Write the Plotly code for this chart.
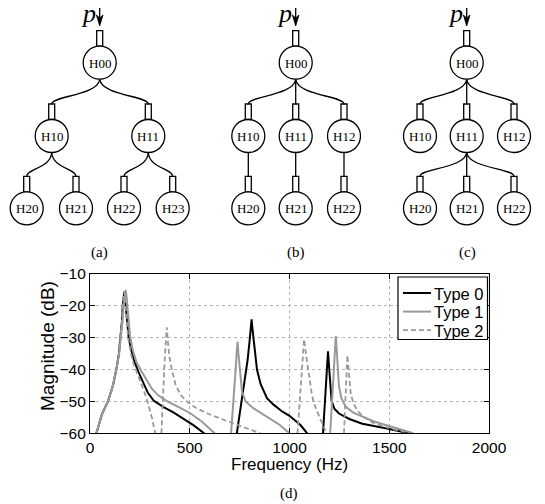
import plotly.graph_objects as go

# ---------------- data ----------------
type0_f = [32, 60, 90, 115, 132, 145, 152, 160, 164, 168, 172, 176, 181, 187, 194, 205, 220, 241, 265, 290, 320, 369, 420, 469, 520, 572,
           None,
           736, 750, 765, 777, 790, 800, 806, 810, 814, 820, 828, 837, 855, 887, 920, 960, 1000, 1030, 1055, 1089,
           None,
           1168, 1175, 1182, 1188, 1193, 1197, 1203, 1211, 1225, 1248, 1300, 1365, 1482, 1550, 1600]
type0_db = [-60, -54, -50, -45, -40, -35, -30, -25, -20, -17, -15.5, -18, -22, -26.5, -30, -33.5, -37, -40.5, -44, -47.3, -49.8, -51.8, -53.5, -55.4, -57.5, -60,
            None,
            -60, -54, -48, -43, -37, -31, -27, -24.2, -27, -31, -36, -40, -44.5, -49, -51, -53, -54.5, -56, -57.4, -60,
            None,
            -60, -52, -44, -37, -34.3, -38, -44, -49.7, -52.3, -53.8, -55.5, -57, -58.4, -59.2, -60]

type1_f = [32, 60, 90, 115, 132, 146, 154, 163, 168, 174, 179, 183, 188, 195, 201, 215, 232, 258, 285, 310, 340, 385, 440, 503, 560, 625,
           None,
           707, 715, 722, 730, 736, 740, 744, 750, 762, 780, 820, 854, 900, 950, 1000,
           None,
           1204, 1212, 1220, 1227, 1232, 1236, 1241, 1248, 1260, 1281, 1320, 1365, 1420, 1482, 1550, 1620]
type1_db = [-60, -54, -50, -45, -40, -35, -30, -25, -20, -16.5, -15, -17, -21, -26, -29.5, -34, -37.5, -40.5, -43.5, -46, -48, -49.9, -51.6, -53.7, -56.3, -60,
            None,
            -60, -54, -48, -40, -34, -31.3, -35, -40, -47, -50, -52.2, -53.5, -55.3, -57.3, -60,
            None,
            -60, -52, -43, -35, -29.5, -33, -40, -45.3, -49, -51.6, -53.5, -54.8, -56.2, -57.4, -58.7, -60]

type2_f = [32, 60, 90, 115, 132, 145, 152, 160, 164, 168, 172, 176, 181, 191, 205, 220, 233, 255, 275, 288, 300, 310, 318, 327,
           None,
           358, 365, 372, 378, 385, 390, 398, 410, 430, 455, 486, 530, 586, 650, 720, 790, 854,
           None,
           1040, 1050, 1060, 1068, 1073, 1080, 1090, 1097, 1110, 1122, 1140, 1156, 1170, 1183,
           None,
           1273, 1280, 1286, 1290, 1295, 1300, 1307, 1320, 1340, 1375, 1415, 1480, 1550, 1620]
type2_db = [-60, -54, -50, -45, -40, -35, -30, -25, -20, -17, -15.5, -18, -23, -30, -35, -38.5, -40.5, -44, -47.5, -50, -52.5, -55, -57.3, -60,
            None,
            -60, -48, -40, -33, -26.7, -31, -36, -40, -45, -48, -50, -52, -53.7, -55.3, -56.9, -58.5, -60,
            None,
            -60, -50, -40, -33, -30.5, -34, -38.5, -41, -47, -50.5, -53.5, -55.8, -57.5, -60,
            None,
            -60, -50, -41, -35.5, -39, -43.5, -47.6, -50.5, -52.9, -55, -56.6, -58, -59.2, -60]

series_names = ["Type 0", "Type 1", "Type 2"]
x_ticks = [0, 500, 1000, 1500, 2000]
y_ticks = [-60, -50, -40, -30, -20, -10]

# tree diagrams: (root label, level-1 labels, children labels per level-1 node)
tree_a = ("H00", ["H10", "H11"], [["H20", "H21"], ["H22", "H23"]])
tree_b = ("H00", ["H10", "H11", "H12"], [["H20"], ["H21"], ["H22"]])
tree_c = ("H00", ["H10", "H11", "H12"], [[], ["H20", "H21", "H22"], []])
panel_labels = ["(a)", "(b)", "(c)", "(d)"]

# ---------------- figure ----------------
# the page body has an 8px margin, so the figure starts at (8, 8) of the window
OFF = 8
WIN_W, WIN_H = 545, 504
W, H = WIN_W - OFF, WIN_H - OFF


def dom_x(a, b):
    return [(a - OFF) / W, (b - OFF) / W]


def dom_y(top, bottom):
    return [(WIN_H - bottom) / H, (WIN_H - top) / H]


fig = go.Figure()

GRAY = "#999999"
styles = [dict(color="black", width=2),
          dict(color=GRAY, width=2),
          dict(color=GRAY, width=1.8, dash="5px,3px")]
for name, fx, fy, st in zip(series_names, [type0_f, type1_f, type2_f], [type0_db, type1_db, type2_db], styles):
    fig.add_trace(go.Scatter(x=fx, y=fy, mode="lines", name=name, line=st, connectgaps=False,
                             showlegend=False))

# window-pixel overlay for the diagrams and legend
fig.add_trace(go.Scatter(x=[None], y=[None], xaxis="x2", yaxis="y2", showlegend=False, hoverinfo="skip"))

shapes = []
annots = []
LW = 1.3
R = 16.5
RECT_W, RECT_H = 6, 15.5
Y_LEVELS = [62.7, 136, 208.3]


def add_node(cx, cy, label):
    rt = cy - R - RECT_H
    shapes.append(dict(type="rect", xref="x2", yref="y2", x0=cx - RECT_W / 2, x1=cx + RECT_W / 2,
                       y0=rt, y1=cy - R, line=dict(color="black", width=LW), fillcolor="white"))
    shapes.append(dict(type="circle", xref="x2", yref="y2", x0=cx - R, x1=cx + R, y0=cy - R, y1=cy + R,
                       line=dict(color="black", width=LW), fillcolor="white"))
    annots.append(dict(xref="x2", yref="y2", x=cx, y=cy + 0.5, text=label, showarrow=False,
                       font=dict(family="Liberation Serif", size=13, color="black"),
                       xanchor="center", yanchor="middle"))
    return rt


def connect(px, py, cx, cy):
    if abs(px - cx) < 0.5:
        path = f"M {px},{py} L {cx},{cy}"
    else:
        dy = cy - py
        c1x = px + 0.04 * (cx - px)
        c1y = py + 0.67 * dy
        path = f"M {px},{py} C {c1x},{c1y} {cx},{c1y} {cx},{cy}"
    shapes.append(dict(type="path", xref="x2", yref="y2", path=path, line=dict(color="black", width=LW),
                       layer="below"))


def draw_tree(tree, root_x, l1_x, l2_x):
    root, l1, l2 = tree
    add_node(root_x, Y_LEVELS[0], root)
    for i, lab in enumerate(l1):
        rt = Y_LEVELS[1] - R - RECT_H
        connect(root_x, Y_LEVELS[0] + R, l1_x[i], rt)
        add_node(l1_x[i], Y_LEVELS[1], lab)
        for j, clab in enumerate(l2[i]):
            cx = l2_x[i][j]
            rt2 = Y_LEVELS[2] - R - RECT_H
            connect(l1_x[i], Y_LEVELS[1] + R, cx, rt2)
            add_node(cx, Y_LEVELS[2], clab)
    # input arrow and p
    shapes.append(dict(type="line", xref="x2", yref="y2", x0=root_x, x1=root_x, y0=3.3, y1=19,
                       line=dict(color="black", width=LW)))
    shapes.append(dict(type="path", xref="x2", yref="y2",
                       path=f"M {root_x-3.3},15 L {root_x},26 L {root_x+3.3},15 L {root_x},18 Z",
                       fillcolor="black", line=dict(color="black", width=0.8)))
    annots.append(dict(xref="x2", yref="y2", x=root_x - 11, y=13, text="<i>p</i>", showarrow=False,
                       font=dict(family="Liberation Serif", size=26, color="black"),
                       xanchor="center", yanchor="middle"))


draw_tree(tree_a, 99.7, [51.7, 148.3], [[26.7, 76], [124, 172.7]])
draw_tree(tree_b, 295.7, [248.3, 295.7, 344], [[248.3], [295.7], [344]])
draw_tree(tree_c, 466.7, [420, 466.7, 514], [[], [420, 466.7, 514], []])

for lab, (x, y) in zip(panel_labels, [(99.5, 252), (296, 252), (467.5, 252), (289, 493)]):
    annots.append(dict(xref="x2", yref="y2", x=x, y=y, text=lab, showarrow=False,
                       font=dict(family="Liberation Serif", size=15, color="black"),
                       xanchor="center", yanchor="middle"))

annots.append(dict(xref="x2", yref="y2", x=289.5, y=464.5, text="Frequency (Hz)", showarrow=False,
                   font=dict(family="Liberation Sans", size=17, color="black"),
                   xanchor="center", yanchor="middle"))
annots.append(dict(xref="x2", yref="y2", x=47, y=346, text="Magnitude (dB)", showarrow=False, textangle=-90,
                   font=dict(family="Liberation Sans", size=19, color="black"),
                   xanchor="center", yanchor="middle"))

# legend box (MATLAB style)
shapes.append(dict(type="rect", xref="x2", yref="y2", x0=398, x1=487.5, y0=277, y1=339.5,
                   line=dict(color="black", width=1.2), fillcolor="white", layer="above"))
for k, (name, st) in enumerate(zip(series_names, styles)):
    yy = 293 + k * 18.6
    ln = dict(color=st["color"], width=st["width"])
    if "dash" in st:
        ln["dash"] = st["dash"]
    shapes.append(dict(type="line", xref="x2", yref="y2", x0=403, x1=431, y0=yy, y1=yy, line=ln,
                       layer="above"))
    annots.append(dict(xref="x2", yref="y2", x=432, y=yy + 0.5, text=name, showarrow=False,
                       font=dict(family="Liberation Sans", size=16.5, color="black"),
                       xanchor="left", yanchor="middle"))

axis_common = dict(showline=True, linecolor="black", linewidth=1.3, mirror="all", ticks="inside", ticklen=5,
                   tickcolor="black", showgrid=True, gridcolor="#b5b5b5", griddash="dot", gridwidth=1,
                   zeroline=False, tickfont=dict(family="Liberation Sans", size=15.5, color="black"),
                   automargin=False)

fig.update_layout(
    width=W, height=H,
    margin=dict(l=0, r=0, t=0, b=0),
    paper_bgcolor="white", plot_bgcolor="rgba(0,0,0,0)",
    xaxis=dict(domain=dom_x(90, 489), range=[0, 2000], tickvals=x_ticks, anchor="y", **axis_common),
    yaxis=dict(domain=dom_y(274, 433.3), range=[-60, -10], tickvals=y_ticks, anchor="x", **axis_common),
    xaxis2=dict(domain=[0, 1], range=[OFF, WIN_W], visible=False, anchor="y2", fixedrange=True),
    yaxis2=dict(domain=[0, 1], range=[WIN_H, OFF], visible=False, anchor="x2", fixedrange=True),
    shapes=shapes,
    annotations=annots,
    showlegend=False,
)

fig.write_html("out.html")
